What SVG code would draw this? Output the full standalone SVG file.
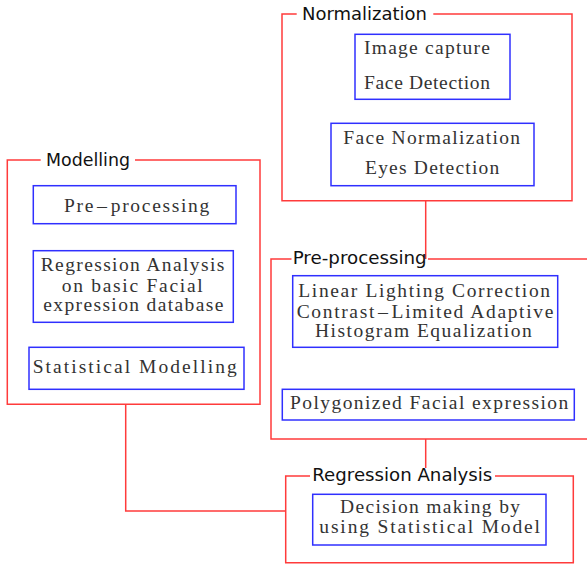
<svg xmlns="http://www.w3.org/2000/svg" width="587" height="565" viewBox="0 0 587 565">
<style>
.frame{fill:none;stroke:#ff3b3b;stroke-width:1.5}
.box{fill:#fff;stroke:#3030ff;stroke-width:1.5}
.conn{fill:none;stroke:#ff3b3b;stroke-width:1.5}
.title{font-family:"DejaVu Sans","Liberation Sans",sans-serif;font-size:17.5px;fill:#111}
.t{font-family:"Liberation Serif","Noto Sans CJK KR",serif;font-size:19.5px;fill:#333}
.d{font-size:14px}
</style>
<rect width="587" height="565" fill="#fff"/>
<g id="connectors">
<path class="conn" d="M425.7 200.7 V259"/>
<path class="conn" d="M425.7 439 V468"/>
<path class="conn" d="M125.7 404.3 V511 H285.7"/>
</g>
<g id="normalization">
<path class="frame" d="M296.7 14 H282 V200.7 H572 V14 H433.3"/>
<text class="title" x="302" y="20" textLength="125" lengthAdjust="spacingAndGlyphs">Normalization</text>
<g id="image-capture">
<rect class="box" x="355" y="34.3" width="155" height="65"/>
<text class="t" x="364" y="54.3" textLength="126" lengthAdjust="spacing">Image capture</text>
<text class="t" x="364" y="89.3" textLength="126" lengthAdjust="spacing">Face Detection</text>
</g>
<g id="face-normalization">
<rect class="box" x="331" y="123.3" width="203" height="62.4"/>
<text class="t" x="343.3" y="144" textLength="176.7" lengthAdjust="spacing">Face Normalization</text>
<text class="t" x="365" y="174" textLength="134.3" lengthAdjust="spacing">Eyes Detection</text>
</g>
</g>
<g id="modelling">
<path class="frame" d="M40.7 160 H7.3 V404.3 H260 V160 H135"/>
<text class="title" x="46" y="166" textLength="84" lengthAdjust="spacingAndGlyphs">Modelling</text>
<g id="pre-processing-m">
<rect class="box" x="33.3" y="185.7" width="202.7" height="38"/>
<text class="t" x="64" y="211.7" textLength="145.3" lengthAdjust="spacing">Pre<tspan class="d">－</tspan>processing</text>
</g>
<g id="regression-m">
<rect class="box" x="33.3" y="250.7" width="200" height="71.6"/>
<text class="t" x="40.7" y="271" textLength="183.6" lengthAdjust="spacing">Regression Analysis</text>
<text class="t" x="61.7" y="291.7" textLength="141" lengthAdjust="spacing">on basic Facial</text>
<text class="t" x="43.3" y="310.7" textLength="180" lengthAdjust="spacing">expression database</text>
</g>
<g id="statistical-modelling">
<rect class="box" x="29" y="347.3" width="215" height="42"/>
<text class="t" x="32.7" y="373.3" textLength="204" lengthAdjust="spacing">Statistical Modelling</text>
</g>
</g>
<g id="pre-processing">
<path class="frame" d="M291.5 259 H271 V439 H588 M428 259 H588"/>
<text class="title" x="292.7" y="264" textLength="134" lengthAdjust="spacingAndGlyphs">Pre-processing</text>
<g id="linear">
<rect class="box" x="292.7" y="275.7" width="265" height="71.6"/>
<text class="t" x="298.3" y="297.3" textLength="251.7" lengthAdjust="spacing">Linear Lighting Correction</text>
<text class="t" x="296.7" y="317.7" textLength="256.6" lengthAdjust="spacing">Contrast<tspan class="d">－</tspan>Limited Adaptive</text>
<text class="t" x="315" y="336.7" textLength="216.7" lengthAdjust="spacing">Histogram Equalization</text>
</g>
<g id="polygonized">
<rect class="box" x="282.3" y="389.3" width="292" height="30.7"/>
<text class="t" x="290" y="409.3" textLength="278.3" lengthAdjust="spacing">Polygonized Facial expression</text>
</g>
</g>
<g id="regression-analysis">
<path class="frame" d="M310 476 H285.7 V562.7 H573.3 V476 H495"/>
<text class="title" x="312.3" y="481" textLength="180" lengthAdjust="spacingAndGlyphs">Regression Analysis</text>
<g id="decision">
<rect class="box" x="312.7" y="494.3" width="233.3" height="50.7"/>
<text class="t" x="340" y="513.3" textLength="180" lengthAdjust="spacing">Decision making by</text>
<text class="t" x="319.3" y="533.3" textLength="220.7" lengthAdjust="spacing">using Statistical Model</text>
</g>
</g>
</svg>
